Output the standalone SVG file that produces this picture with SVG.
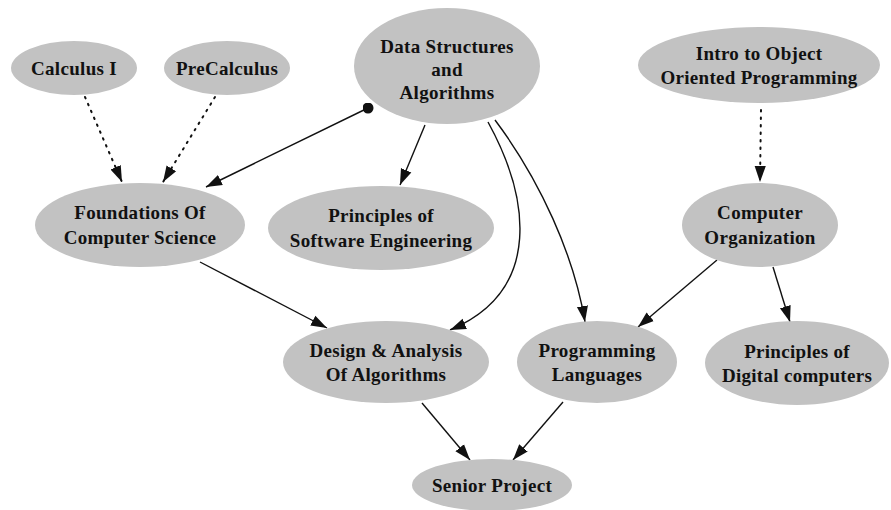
<svg xmlns="http://www.w3.org/2000/svg" width="891" height="510" viewBox="0 0 891 510">
  <style>
    .node ellipse { fill: #c2c2c2; stroke: none; }
    .node text { font-family: "Liberation Serif", "Times New Roman", serif; font-size: 19px; font-weight: bold; letter-spacing: 0.3px; fill: #111; text-anchor: middle; }
    .edge { fill: none; stroke: #111; stroke-width: 1.4; }
    .dotted { stroke-dasharray: 1.5 6; stroke-width: 2; stroke-linecap: round; }
  </style>
  <defs>
    <marker id="arrowBig" viewBox="0 0 10 10" refX="10" refY="5" markerWidth="16" markerHeight="16" markerUnits="userSpaceOnUse" orient="auto">
      <path d="M0,1.5 L10,5 L0,8.5 Z" fill="#111"/>
    </marker>
    <marker id="dot" viewBox="0 0 10 10" refX="5" refY="5" markerWidth="11" markerHeight="11" markerUnits="userSpaceOnUse">
      <circle cx="5" cy="5" r="5" fill="#111"/>
    </marker>
  </defs>
  <rect width="891" height="510" fill="#ffffff"/>

  <!-- connectors -->
  <g id="edges">
    <path class="edge dotted" d="M85,97 L122,182" marker-end="url(#arrowBig)"/>
    <path class="edge dotted" d="M215,97 L163,182" marker-end="url(#arrowBig)"/>
    <path class="edge dotted" d="M761,110 L760,182" marker-end="url(#arrowBig)"/>
    <path class="edge" d="M368,108 L206,187" marker-start="url(#dot)" marker-end="url(#arrowBig)"/>
    <path class="edge" d="M425,125 L400,185" marker-end="url(#arrowBig)"/>
    <path class="edge" d="M488,122 C528,195 545,290 450,330" marker-end="url(#arrowBig)"/>
    <path class="edge" d="M495,120 C540,180 574,255 585,322" marker-end="url(#arrowBig)"/>
    <path class="edge" d="M717,260 L638,327" marker-end="url(#arrowBig)"/>
    <path class="edge" d="M773,267 L790,322" marker-end="url(#arrowBig)"/>
    <path class="edge" d="M200,262 L327,328" marker-end="url(#arrowBig)"/>
    <path class="edge" d="M422,403 L470,460" marker-end="url(#arrowBig)"/>
    <path class="edge" d="M563,402 L513,460" marker-end="url(#arrowBig)"/>
  </g>

  <!-- nodes -->
  <g id="calculus1" class="node">
    <ellipse cx="74" cy="68" rx="63" ry="27"/>
    <text x="74" y="75">Calculus I</text>
  </g>
  <g id="precalculus" class="node">
    <ellipse cx="227" cy="68" rx="63" ry="27"/>
    <text x="227" y="75">PreCalculus</text>
  </g>
  <g id="datastructures" class="node">
    <ellipse cx="447" cy="66" rx="93" ry="58"/>
    <text x="447" y="53">Data Structures</text>
    <text x="447" y="76">and</text>
    <text x="447" y="99">Algorithms</text>
  </g>
  <g id="introoop" class="node">
    <ellipse cx="759" cy="65" rx="121" ry="38"/>
    <text x="759" y="60">Intro to Object</text>
    <text x="759" y="84">Oriented Programming</text>
  </g>
  <g id="foundations" class="node">
    <ellipse cx="140" cy="225" rx="105" ry="42"/>
    <text x="140" y="219">Foundations Of</text>
    <text x="140" y="244">Computer Science</text>
  </g>
  <g id="softeng" class="node">
    <ellipse cx="381" cy="228" rx="113" ry="42"/>
    <text x="381" y="222">Principles of</text>
    <text x="381" y="247">Software Engineering</text>
  </g>
  <g id="comporg" class="node">
    <ellipse cx="760" cy="225" rx="78" ry="42"/>
    <text x="760" y="219">Computer</text>
    <text x="760" y="244">Organization</text>
  </g>
  <g id="design" class="node">
    <ellipse cx="386" cy="362" rx="103" ry="41"/>
    <text x="386" y="357">Design &amp; Analysis</text>
    <text x="386" y="381">Of Algorithms</text>
  </g>
  <g id="proglang" class="node">
    <ellipse cx="597" cy="362" rx="80" ry="41"/>
    <text x="597" y="357">Programming</text>
    <text x="597" y="381">Languages</text>
  </g>
  <g id="digital" class="node">
    <ellipse cx="797" cy="363" rx="92" ry="42"/>
    <text x="797" y="358">Principles of</text>
    <text x="797" y="382">Digital computers</text>
  </g>
  <g id="senior" class="node">
    <ellipse cx="492" cy="485" rx="80" ry="26"/>
    <text x="492" y="492">Senior Project</text>
  </g>
</svg>
